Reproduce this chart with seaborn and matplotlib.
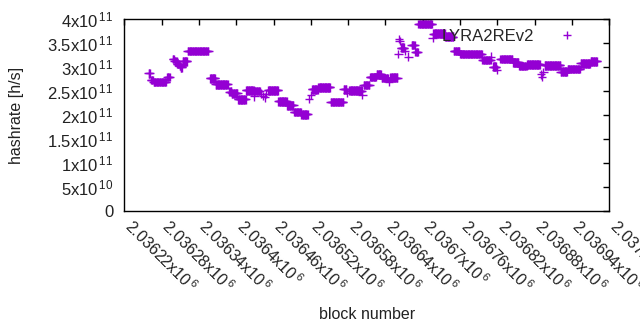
import numpy as np
import pandas as pd
import matplotlib
matplotlib.use("Agg")
import matplotlib.pyplot as plt
import matplotlib.transforms as mtransforms
import seaborn as sns

# runs of consecutive blocks sharing the same hashrate estimate (x1e11 h/s)
run_start = [2036259, 2036263, 2036267, 2036289, 2036298, 2036301, 2036305, 2036309,
             2036311, 2036314, 2036322, 2036358, 2036367, 2036389, 2036393, 2036403,
             2036416, 2036429, 2036430, 2036440, 2036443, 2036446, 2036448, 2036451,
             2036468, 2036482, 2036493, 2036505, 2036517, 2036520, 2036522, 2036532,
             2036552, 2036573, 2036578, 2036582, 2036603, 2036605, 2036615, 2036626,
             2036634, 2036646, 2036648, 2036661, 2036662, 2036663, 2036665, 2036671,
             2036677, 2036682, 2036688, 2036693, 2036716, 2036717, 2036736, 2036750,
             2036760, 2036796, 2036810, 2036813, 2036819, 2036825, 2036845, 2036855,
             2036868, 2036890, 2036892, 2036894, 2036896, 2036922, 2036933, 2036954,
             2036970]
run_end = [2036261, 2036266, 2036287, 2036293, 2036300, 2036304, 2036308, 2036310,
           2036313, 2036321, 2036355, 2036366, 2036386, 2036392, 2036402, 2036415,
           2036428, 2036429, 2036438, 2036440, 2036443, 2036446, 2036448, 2036467,
           2036481, 2036492, 2036504, 2036515, 2036517, 2036520, 2036531, 2036551,
           2036572, 2036577, 2036578, 2036602, 2036603, 2036614, 2036625, 2036633,
           2036644, 2036646, 2036659, 2036661, 2036662, 2036663, 2036670, 2036671,
           2036677, 2036687, 2036692, 2036715, 2036716, 2036735, 2036749, 2036759,
           2036795, 2036809, 2036810, 2036818, 2036819, 2036844, 2036854, 2036867,
           2036888, 2036890, 2036892, 2036894, 2036921, 2036932, 2036953, 2036969,
           2036980]
run_value = [2.87, 2.73, 2.69, 2.80, 3.17, 3.12, 3.07, 3.03,
             3.00, 3.12, 3.335, 2.77, 2.64, 2.49, 2.455, 2.33,
             2.52, 2.39, 2.50, 2.45, 2.40, 2.37, 2.44, 2.52,
             2.29, 2.205, 2.066, 2.018, 2.34, 2.42, 2.54, 2.58,
             2.27, 2.54, 2.46, 2.51, 2.43, 2.63, 2.80, 2.85,
             2.775, 2.69, 2.78, 3.28, 3.59, 3.55, 3.41, 3.34,
             3.22, 3.46, 3.32, 3.90, 3.61, 3.70, 3.64, 3.34,
             3.28, 3.15, 3.22, 3.01, 2.95, 3.17, 3.10, 3.03,
             3.06, 2.85, 2.80, 2.90, 3.04, 2.91, 2.96, 3.08,
             3.12]

y_ticks = [0, 0.5e11, 1e11, 1.5e11, 2e11, 2.5e11, 3e11, 3.5e11, 4e11]
y_mant = ["0", "5", "1", "1.5", "2", "2.5", "3", "3.5", "4"]
y_exp = ["", "10", "11", "11", "11", "11", "11", "11", "11"]
x_ticks = [2036220, 2036280, 2036340, 2036400, 2036460, 2036520, 2036580,
           2036640, 2036700, 2036760, 2036820, 2036880, 2036940, 2037000]
x_labels = ["2.03622", "2.03628", "2.03634", "2.0364", "2.03646", "2.03652",
            "2.03658", "2.03664", "2.0367", "2.03676", "2.03682", "2.03688",
            "2.03694", "2.037"]

blocks, rates = [], []
for s, e, v in zip(run_start, run_end, run_value):
    b = np.arange(s, e + 1)
    blocks.extend(b)
    rates.extend([v * 1e11] * len(b))
df = pd.DataFrame({"block": blocks, "hashrate": rates, "series": "LYRA2REv2"})

sns.set_style("white")
plt.rcParams["font.family"] = ["Liberation Sans", "DejaVu Sans"]
plt.rcParams["mathtext.fontset"] = "custom"
plt.rcParams["mathtext.rm"] = "Liberation Sans"
plt.rcParams["mathtext.it"] = "Liberation Sans"
plt.rcParams["mathtext.bf"] = "Liberation Sans"

fig = plt.figure(figsize=(6.4, 3.3), dpi=100)
ax = fig.add_axes([0.1942, 0.3606, 0.7578, 0.5809])

sns.scatterplot(data=df, x="block", y="hashrate", hue="series",
                palette=["#9400d3"], marker="+", s=38, linewidth=1.0, ax=ax,
                legend=True)

def sup(m, e):
    if not e:
        return m
    return r"$\mathregular{%sx10^{\,%s}}$" % (m, e)

ax.set_xlim(2036220, 2037000)
ax.set_ylim(0, 4e11)
ax.set_yticks(y_ticks)
ax.set_yticklabels([sup(m, e) for m, e in zip(y_mant, y_exp)], fontsize=12)
ax.set_xticks(x_ticks)
ax.set_xticklabels([sup(l, "6") for l in x_labels],
                   fontsize=11.5, rotation=-45, ha="left", va="top",
                   rotation_mode="anchor")
ax.tick_params(direction="in", length=4.5, width=1, top=True, right=True,
               colors="black", labelcolor="#222222")
ax.tick_params(axis="y", pad=8)
ax.tick_params(axis="x", pad=6)
shift = mtransforms.ScaledTranslation(0.10, 0.03, fig.dpi_scale_trans)
for lab in ax.get_xticklabels():
    lab.set_transform(lab.get_transform() + shift)
for sp in ax.spines.values():
    sp.set_color("black")
    sp.set_linewidth(1)

ax.set_xlabel("block number", fontsize=11.5, color="#222222")
ax.set_ylabel("hashrate [h/s]", fontsize=11.5, color="#222222")
ax.xaxis.set_label_coords(0.5, -0.50)
ax.yaxis.set_label_coords(-0.207, 0.5)

leg = ax.legend(loc="upper right", frameon=False, markerfirst=False,
                fontsize=12, handletextpad=0.95, borderaxespad=0.2,
                bbox_to_anchor=(0.967, 1.004), markerscale=1.0)

fig.savefig("out.png", dpi=100)
